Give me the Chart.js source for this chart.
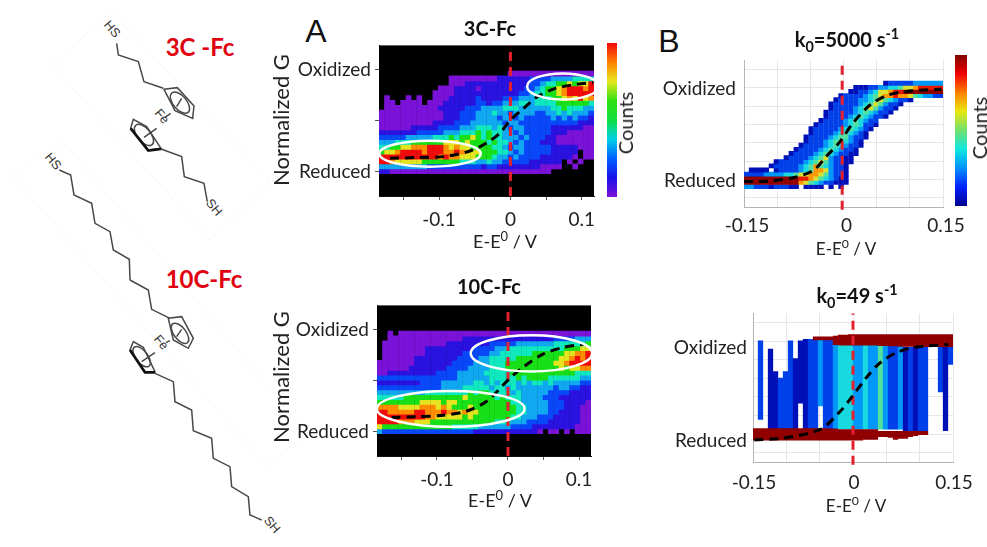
<!DOCTYPE html>
<html>
<head>
<meta charset="utf-8">
<title>Ferrocene conductance maps</title>
<script src="https://cdn.jsdelivr.net/npm/chart.js@4"></script>
<style>
  html, body { margin: 0; padding: 0; background: #fff; }
  body { position: relative; width: 987px; height: 547px; overflow: hidden; font-family: Lato, sans-serif; color: #222; }
  canvas { position: absolute; filter: blur(0.5px); }
  svg { position: absolute; left: 0; top: 0; }
  .t { position: absolute; transform: translate(-50%, -50%); white-space: nowrap; line-height: 1; }
  .v { transform: translate(-50%, -50%) rotate(-90deg); }
  .title { font-size: 20px; font-weight: 700; color: #111; }
  .xlab { font-size: 18px; }
  .ylab { font-size: 22px; }
  .counts { font-size: 20px; }
  .tag { font-family: "Liberation Sans", sans-serif; font-size: 32px; color: #111; }
  .mol { font-size: 24px; font-weight: 700; color: #e0000f; }
  sup, sub { font-size: 72%; line-height: 0; }
</style>
</head>
<body>

<!-- molecule sketches, drawn on the 3x crop coordinates -->
<svg width="987" height="547" viewBox="0 0 987 547">
  <g transform="scale(0.3333)" fill="none" stroke="#484848" stroke-width="4.5" font-family="Liberation Sans">
    <polygon points="335,35 155,195 630,720 810,545" stroke="#efefef" stroke-width="3" stroke-dasharray="6 5"/>
    <polygon points="190,425 35,525 800,1400 920,1300" stroke="#f1f1f1" stroke-width="3" stroke-dasharray="6 5"/>
    <polyline points="350,130 355,165 415,185 432,245 490,265"/>
    <polygon points="492,268 532,263 582,318 578,355 525,332"/>
    <ellipse cx="540" cy="308" rx="38" ry="20" transform="rotate(50 540 308)"/>
    <line x1="545" y1="295" x2="530" y2="320"/>
    <line x1="512" y1="340" x2="495" y2="352"/>
    <line x1="470" y1="385" x2="432" y2="412"/>
    <polygon points="400,358 392,385 445,450 483,445 440,380"/>
    <ellipse cx="432" cy="405" rx="38" ry="20" transform="rotate(50 432 405)"/>
    <polyline points="392,385 445,452 483,447" stroke="#111" stroke-width="8"/>
    <polyline points="483,447 545,470 553,530 612,550 622,605"/>
    <polyline points="178,510 212,525 222,585 275,610 285,670 330,695 340,750 388,778 390,840"/>
    <g fill="#333" stroke="none" font-size="38">
      <text transform="translate(310,75) rotate(50)">HS</text>
      <text transform="translate(616,610) rotate(50)">SH</text>
      <text transform="translate(462,340) rotate(50)">Fe</text>
      <text transform="translate(133,472) rotate(50)">HS</text>
    </g>
  </g>
  <g transform="translate(0,270) scale(0.3333)" fill="none" stroke="#484848" stroke-width="4.5" font-family="Liberation Sans">
    <polyline points="390,30 445,60 455,118 510,145"/>
    <polygon points="505,145 545,140 580,205 565,235 520,210"/>
    <ellipse cx="540" cy="190" rx="36" ry="18" transform="rotate(52 540 190)"/>
    <line x1="545" y1="178" x2="530" y2="200"/>
    <line x1="510" y1="212" x2="498" y2="218"/>
    <line x1="465" y1="248" x2="425" y2="275"/>
    <polygon points="400,215 390,240 435,305 465,305 430,232"/>
    <ellipse cx="425" cy="260" rx="36" ry="18" transform="rotate(52 425 260)"/>
    <polyline points="390,240 435,307 465,307" stroke="#111" stroke-width="8"/>
    <polyline points="465,310 520,335 525,395 575,420 580,482 635,505 640,565 690,590 695,650 745,680 750,735 785,750"/>
    <g fill="#333" stroke="none" font-size="38">
      <text transform="translate(460,208) rotate(50)">Fe</text>
      <text transform="translate(790,752) rotate(50)">SH</text>
    </g>
  </g>
</svg>

<div class="t mol" style="left:200px;top:47px">3C -Fc</div>
<div class="t mol" style="left:204px;top:279px">10C-Fc</div>
<div class="t tag" style="left:316px;top:31px">A</div>
<div class="t tag" style="left:669px;top:41px">B</div>

<canvas id="map3C"></canvas>
<canvas id="map10C"></canvas>
<canvas id="mapFast"></canvas>
<canvas id="mapSlow"></canvas>
<canvas id="bar3C"></canvas>
<canvas id="barFast"></canvas>

<div class="t title" style="left:490px;top:28px">3C-Fc</div>
<div class="t title" style="left:489px;top:286px">10C-Fc</div>
<div class="t title" style="left:847px;top:39px">k<sub>0</sub>=5000 s<sup>-1</sup></div>
<div class="t title" style="left:857px;top:295px">k<sub>0</sub>=49 s<sup>-1</sup></div>
<div class="t xlab" style="left:505px;top:241px">E-E<sup>0</sup> / V</div>
<div class="t xlab" style="left:500px;top:500px">E-E<sup>0</sup> / V</div>
<div class="t xlab" style="left:846px;top:248px;font-size:17px">E-E<sup>0</sup> / V</div>
<div class="t xlab" style="left:856px;top:505px;font-size:17px">E-E<sup>0</sup> / V</div>
<div class="t v ylab" style="left:281px;top:120px">Normalized G</div>
<div class="t v ylab" style="left:281px;top:377px">Normalized G</div>
<div class="t v counts" style="left:625px;top:123px">Counts</div>
<div class="t v counts" style="left:979px;top:128px">Counts</div>

<script>
/* ================= DATA ================= */
const stateTicks = [0, 0.5, 1];
const stateLabels = ["Reduced", "", "Oxidized"];
const simStateTicks = [-0.2, 0, 0.2, 0.4, 0.6, 0.8, 1, 1.2];
const simStateLabels = ["", "Reduced", "", "", "", "", "Oxidized", ""];
const potTicksA = [-0.15, -0.1, -0.05, 0, 0.05, 0.1];
const potLabelsA = ["", "-0.1", "", "0", "", "0.1"];
const potTicksB = [-0.15, -0.1, -0.05, 0, 0.05, 0.1, 0.15];
const potLabelsB = ["-0.15", "", "", "0", "", "", "0.15"];

// average curves, potential / normalized G
const curve3CX = [-0.1685, -0.131, -0.094, -0.0566, -0.033, -0.0147, 0, 0.018, 0.0366, 0.06, 0.088, 0.116];
const curve3CY = [0.13, 0.138, 0.147, 0.202, 0.282, 0.378, 0.506, 0.618, 0.731, 0.811, 0.853, 0.875];
const curve10CX = [-0.164, -0.129, -0.091, -0.058, -0.03, 0, 0.0216, 0.05, 0.078, 0.106];
const curve10CY = [0.138, 0.147, 0.16, 0.202, 0.298, 0.506, 0.635, 0.763, 0.827, 0.859];
const curveFastX = [-0.15, -0.116, -0.0757, -0.0455, -0.0253, -0.0053, 0.0148, 0.04, 0.065, 0.0953, 0.148];
const curveFastY = [-0.02, -0.02, 0.02, 0.10, 0.257, 0.413, 0.622, 0.813, 0.917, 0.962, 0.986];
const curveSlowX = [-0.148, -0.104, -0.049, -0.0195, 0, 0.02, 0.04, 0.065, 0.095, 0.143];
const curveSlowY = [-0.0625, -0.042, 0.052, 0.243, 0.417, 0.608, 0.764, 0.878, 0.9375, 0.965];

// count levels, one string per row from the top, "." is an empty cell
const counts3C = [
  ".......... .......... ....111111 1111111111",
  ".......... ...1111111 1122222233 3344445555",
  ".......... ...1112222 2222222233 4556676779",
  ".......... .111222212 2222222334 5667899989",
  ".......... 1111222222 2222223345 5667899999",
  ".1...1.1.. 1112222232 2223334445 5566787978",
  ".11.1111.1 1122222233 2334445545 5556666665",
  ".111111111 1222223334 4445554444 4455655544",
  "1111111111 1122233344 4544344443 3445454443",
  "1111111111 1122233344 4434434333 3343434332",
  "1111111111 2222333444 4443443333 3333333222",
  "1111112222 2333344455 5454344333 3322222211",
  "2222222333 3344455565 6554434333 3322211111",
  "3333344444 5556566765 6554443433 3221111111",
  "4445556666 6677767666 5655434333 2221111111",
  "5566778889 9987877666 6554344333 3322222111",
  "6778999989 9988987776 6655434333 3322222.11",
  "9999999999 9898877766 6544343333 2222221.11",
  "9987777766 6666655544 5443333322 2222.1.1..",
  "4444444443 3333333332 3322222222 1111..1...",
  "2211111111 1111111111 1111111111 11........"
];
const counts10C = [
  "..1.111111 1111111111 1111111111 1111111111",
  "..11111111 1111112222 2222222222 2223333444",
  ".111111111 1112222222 2333334444 4445555556",
  ".111111112 2222222233 3344555555 5555566677",
  ".111111112 2222223333 3445555556 6666677889",
  ".111111222 2222233334 4555556666 6666778989",
  "1111111222 2222333344 4555666666 6667789999",
  "1111112222 2223333444 4555666666 6666767788",
  "1122222222 2333344444 5555566666 6666666555",
  "3333333333 3333344444 4555556566 6655555544",
  "2222222233 3344444455 4545554545 5454444433",
  "3333333333 3344445555 5455454444 4443443322",
  "4444444445 5555555656 6555545444 4433332222",
  "5555566666 6666667666 6656555444 4333222222",
  "6666666677 7767766666 6666655444 4433322221",
  "8888777788 8787666766 6666665544 4433322211",
  "9988888998 8898878776 6666665544 4433222211",
  "9999999998 8777776766 6666655444 3332222211",
  "9999888777 6666666666 6655544433 3322222211",
  "7666666666 6666555554 4444433332 2222222111",
  "4333333333 3333333322 2222222222 1.11.1.111"
];
const countsFast = [
  ".......... .......... ........12 2222333333",
  ".......... .......... ..11122334 4566788888",
  ".......... .......... .112234667 8899999999",
  ".......... .........1 2222345677 8776543322",
  ".......... ........12 2223345654 3221......",
  ".......... .......122 2223456532 21........",
  ".......... .......122 2234565322 1.........",
  ".......... ......1222 2234543221 ..........",
  ".......... ......1222 234543221. ..........",
  ".......... .....12222 3454322... ..........",
  ".......... ....122222 3454221... ..........",
  ".......... ...1222223 454321.... ..........",
  ".......... ...1222234 54321..... ..........",
  ".......... ..12222345 53221..... ..........",
  ".......... ..12223455 4321...... ..........",
  ".......... .122223454 3221...... ..........",
  ".......... 1222234543 221....... ..........",
  ".........1 2222345432 211....... ..........",
  "........12 2223456322 11........ ..........",
  "......1222 2234565322 11........ ..........",
  ".....12222 2345754322 1......... ..........",
  ".1111.1222 2345776322 1......... ..........",
  "2222333344 5667765322 1......... ..........",
  "9999999999 9887654321 1......... ..........",
  "9999999999 9765432211 1......... ..........",
  "3322212221 1.1111.1.1 .......... .........."
];

// slow panel: one floating bar per column, plus the two saturated bands
const slowTops = [null, 1.007, null, 0.92, 0.677, 0.608, 0.677, 1.007, 0.816, 1.007,
  1.024, 1.024, 1.024, 1.024, 1.024, 1.042, 1.024, 0.972, 0.972, 0.972,
  0.972, 0.972, 0.972, 0.972, 0.972, 0.972, 0.972, 0.972, 0.972, 0.972,
  0.9375, 0.9375, 0.9375, 0.9375, 0.9375, null, null, 0.9375, 0.9375, 0.9375];
const slowBottoms = [null, 0.156, null, 0.05, 0.05, 0.05, 0.05, 0.05, 0.05, 0.33,
  0.05, 0.05, 0.05, 0.3, 0.05, 0.05, 0.05, 0.05, 0.05, 0.05,
  0.05, 0.05, 0.05, 0.05, 0.05, 0.05, 0.05, 0.05, 0.05, 0.05,
  0.03, 0.03, 0.03, 0.03, 0.03, null, null, 0.451, 0.035, 0.747];
const slowLevels = [0, 2, 0, 1, 1, 2, 2, 2, 1, 1,
  1, 2, 2, 3, 2, 2, 3, 4, 4, 4,
  3, 3, 4, 3, 3, 5, 3, 2, 2, 3,
  1, 2, 1, 2, 2, 0, 0, 2, 1, 2];
const slowOxTops = [null, null, null, null, null, null, null, null, null, null,
  null, null, 1.05, 1.05, 1.05, 1.05, 1.06, 1.07, 1.07, 1.076,
  1.076, 1.076, 1.076, 1.076, 1.076, 1.076, 1.076, 1.076, 1.076, 1.076,
  1.076, 1.076, 1.076, 1.076, 1.076, 1.076, 1.076, 1.076, 1.076, 1.076];
const slowOxBottoms = [null, null, null, null, null, null, null, null, null, null,
  null, null, 1.01, 1.01, 1.01, 1.01, 0.96, 0.955, 0.955, 0.955,
  0.955, 0.955, 0.955, 0.955, 0.955, 0.95, 0.95, 0.945, 0.945, 0.94,
  0.94, 0.94, 0.9375, 0.9375, 0.9375, 0.9375, 0.9375, 0.9375, 0.9375, 0.9375];
const slowRedTops = [0.0625, 0.0625, 0.0625, 0.0625, 0.0625, 0.0625, 0.0625, 0.0625, 0.0625, 0.0625,
  0.0625, 0.0625, 0.0625, 0.0625, 0.0625, 0.06, 0.06, 0.052, 0.052, 0.052,
  0.052, 0.052, 0.052, 0.052, 0.052, 0.035, 0.035, 0.035, 0.035, 0.035,
  0.035, 0.035, 0.035, 0.035, 0.035, null, null, null, null, null];
const slowRedBottoms = [-0.069, -0.069, -0.069, -0.069, -0.069, -0.069, -0.069, -0.069, -0.069, -0.069,
  -0.069, -0.069, -0.069, -0.069, -0.069, -0.069, -0.069, -0.069, -0.069, -0.069,
  -0.069, -0.069, -0.06, -0.06, -0.06, -0.03, -0.03, -0.04, -0.06, -0.05,
  -0.05, -0.03, -0.02, -0.01, -0.01, null, null, null, null, null];

/* ================= STYLE ================= */
const rainbow = ["", "#7a12d8", "#2a12e0", "#0848f8", "#10a8f0", "#10e8c0", "#18e018", "#e4e420", "#ff8c00", "#f00c0c"];
const jet = ["", "#0010b8", "#0040e8", "#0098f8", "#18d8e0", "#50e0a0", "#d8e030", "#ff9800", "#e81800", "#900000"];
const rainbowStops = ["#7a12d8", "#1a10e8", "#0060ff", "#00d0e8", "#10e040", "#30e010", "#e8e820", "#ff8000", "#f00808"];
const jetStops = ["#00008c", "#0020ff", "#0090ff", "#10e8e0", "#70e070", "#e8e810", "#ff8000", "#f00000", "#800000"];
const RED = "#e4202c";
const INK = "#222";
const AXIS_FONT = { family: "Lato", size: 19 };
const COLS = 40;
const AXIS_W = 110, AXIS_H = 40, PAD_TOP = 12, PAD_RIGHT = 40;

/* ================= HELPERS ================= */
const columnNames = Array.from({ length: COLS }, (_, i) => String(i));

// one floating-bar dataset per row of the grid
const rowDatasets = (rows, topY, stepY, palette) => rows.map((row, r) => {
  const cells = row.replace(/ /g, "").padEnd(COLS, ".").split("");
  const hi = topY - r * stepY + 0.004;
  const lo = topY - (r + 1) * stepY - 0.004;
  return {
    xAxisID: "xc",
    grouped: false,
    barPercentage: 1.06,
    categoryPercentage: 1,
    borderWidth: 0,
    data: cells.map(c => (c === "." ? null : [lo, hi])),
    backgroundColor: cells.map(c => (c === "." ? "rgba(0,0,0,0)" : palette[+c]))
  };
});

const bandDataset = (tops, bottoms, colors) => ({
  xAxisID: "xc",
  grouped: false,
  barPercentage: 1.06,
  categoryPercentage: 1,
  borderWidth: 0,
  data: tops.map((t, i) => (t === null ? null : [bottoms[i], t])),
  backgroundColor: colors
});

const curveDataset = (xs, ys) => ({
  type: "line",
  xAxisID: "x",
  data: xs.map((x, i) => ({ x, y: ys[i] })),
  borderColor: "#000",
  borderWidth: 3,
  borderDash: [9, 6],
  pointRadius: 0,
  tension: 0.3,
  clip: false
});

const zeroDataset = (x, lo, hi) => ({
  type: "line",
  xAxisID: "x",
  data: [{ x, y: lo }, { x, y: hi }],
  borderColor: RED,
  borderWidth: 3,
  borderDash: [9, 6],
  pointRadius: 0,
  clip: false
});

const plotFill = color => ({
  id: "plotFill",
  beforeDatasetsDraw(chart) {
    const a = chart.chartArea;
    chart.ctx.save();
    chart.ctx.fillStyle = color;
    chart.ctx.fillRect(a.left, a.top, a.width, a.height);
    chart.ctx.restore();
  }
});

// white rings around the two plateaus, given in axis units
const rings = list => ({
  id: "rings",
  afterDatasetsDraw(chart) {
    const { x, y } = chart.scales;
    const ctx = chart.ctx;
    ctx.save();
    ctx.strokeStyle = "#fff";
    ctx.lineWidth = 2.5;
    list.forEach(e => {
      ctx.beginPath();
      ctx.ellipse(
        x.getPixelForValue(e.x), y.getPixelForValue(e.y),
        Math.abs(x.getPixelForValue(e.x + e.rx) - x.getPixelForValue(e.x)),
        Math.abs(y.getPixelForValue(e.y + e.ry) - y.getPixelForValue(e.y)),
        0, 0, Math.PI * 2
      );
      ctx.stroke();
    });
    ctx.restore();
  }
});

const placeCanvas = (id, left, top, width, height) => {
  const c = document.getElementById(id);
  c.width = width;
  c.height = height;
  c.style.left = left + "px";
  c.style.top = top + "px";
  c.style.width = width + "px";
  c.style.height = height + "px";
  return c;
};

const labelFrom = (ticks, labels) => v => {
  const i = ticks.findIndex(t => Math.abs(t - v) < 1e-6);
  return i < 0 ? "" : labels[i];
};

const drawMap = (id, box, cfg) => {
  const canvas = placeCanvas(id, box.left - AXIS_W, box.top - PAD_TOP,
    box.width + AXIS_W + PAD_RIGHT, box.height + PAD_TOP + AXIS_H);
  return new Chart(canvas, {
    type: "bar",
    data: { labels: columnNames, datasets: cfg.datasets },
    plugins: cfg.plugins,
    options: {
      responsive: false,
      animation: false,
      layout: { padding: { top: PAD_TOP, right: PAD_RIGHT, left: 0, bottom: 0 } },
      plugins: { legend: { display: false }, tooltip: { enabled: false }, title: { display: false } },
      scales: {
        xc: { type: "category", display: false, offset: true, grid: { offset: true } },
        x: {
          type: "linear",
          position: "bottom",
          offset: false,
          min: cfg.xMin,
          max: cfg.xMax,
          afterBuildTicks: s => { s.ticks = cfg.xTicks.map(value => ({ value })); },
          afterFit: s => { s.height = AXIS_H; },
          border: { color: cfg.border },
          grid: cfg.grid
            ? { offset: false, color: "#e6e6e6", drawTicks: false }
            : { offset: false, drawOnChartArea: false, tickLength: 4, color: "#555" },
          ticks: {
            autoSkip: false,
            maxRotation: 0,
            padding: cfg.xPad,
            labelOffset: cfg.xOffset,
            color: INK,
            font: AXIS_FONT,
            callback: labelFrom(cfg.xTicks, cfg.xLabels)
          }
        },
        y: {
          type: "linear",
          min: cfg.yMin,
          max: cfg.yMax,
          afterBuildTicks: s => { s.ticks = cfg.yTicks.map(value => ({ value })); },
          afterFit: s => { s.width = AXIS_W; },
          border: { color: cfg.border },
          grid: cfg.grid
            ? { color: "#e6e6e6", drawTicks: false }
            : { drawOnChartArea: false, tickLength: 4, color: "#555" },
          ticks: {
            autoSkip: false,
            padding: cfg.yPad,
            labelOffset: cfg.yOffset,
            color: INK,
            font: AXIS_FONT,
            callback: labelFrom(cfg.yTicks, cfg.yLabels)
          }
        }
      }
    }
  });
};

const drawBar = (id, box, stops) => {
  const canvas = placeCanvas(id, box.left, box.top, box.width, box.height);
  return new Chart(canvas, {
    type: "bar",
    data: {
      labels: ["Counts"],
      datasets: [{
        data: [[0, 1]],
        barPercentage: 1,
        categoryPercentage: 1,
        backgroundColor: ctx => {
          const a = ctx.chart.chartArea;
          if (!a) return stops[0];
          const g = ctx.chart.ctx.createLinearGradient(0, a.bottom, 0, a.top);
          stops.forEach((s, i) => g.addColorStop(i / (stops.length - 1), s));
          return g;
        }
      }]
    },
    options: {
      responsive: false,
      animation: false,
      plugins: { legend: { display: false }, tooltip: { enabled: false } },
      scales: { x: { display: false }, y: { display: false, min: 0, max: 1 } }
    }
  });
};

/* ================= PANELS ================= */
const panelA = {
  xTicks: potTicksA, xLabels: potLabelsA,
  yTicks: stateTicks, yLabels: stateLabels,
  xPad: 8, xOffset: 0, yPad: 4, yOffset: 0, border: "#111", grid: false
};

drawMap("map3C", { left: 379, top: 42, width: 215, height: 154 }, {
  ...panelA, xMin: -0.184, xMax: 0.117, yMin: -0.24, yMax: 1.24,
  datasets: [
    curveDataset(curve3CX, curve3CY),
    zeroDataset(0, -0.24, 1.24),
    ...rowDatasets(counts3C, 0.987, 0.048, rainbow)
  ],
  plugins: [plotFill("#000"), rings([
    { x: -0.1126, y: 0.176, rx: 0.071, ry: 0.128 },
    { x: 0.0734, y: 0.837, rx: 0.05, ry: 0.128 }
  ])]
});

drawMap("map10C", { left: 377, top: 302, width: 214, height: 154 }, {
  ...panelA, xMin: -0.1845, xMax: 0.1169, yMin: -0.24, yMax: 1.24,
  datasets: [
    curveDataset(curve10CX, curve10CY),
    zeroDataset(0, -0.24, 1.24),
    ...rowDatasets(counts10C, 0.987, 0.048, rainbow)
  ],
  plugins: [plotFill("#000"), rings([
    { x: -0.0807, y: 0.224, rx: 0.104, ry: 0.176 },
    { x: 0.033, y: 0.769, rx: 0.0855, ry: 0.178 }
  ])]
});

const panelB = {
  xMin: -0.15, xMax: 0.15, yMin: -0.3, yMax: 1.3,
  xTicks: potTicksB, xLabels: potLabelsB,
  yTicks: simStateTicks, yLabels: simStateLabels,
  yPad: 8, border: "#b4b4b4", grid: true
};

drawMap("mapFast", { left: 744, top: 53, width: 199, height: 154 }, {
  ...panelB, xPad: 7, xOffset: 3, yOffset: 1,
  datasets: [
    curveDataset(curveFastX, curveFastY),
    zeroDataset(-0.002, -0.33, 1.3),
    ...rowDatasets(countsFast, 1.073, 0.0451, jet)
  ],
  plugins: []
});

drawMap("mapSlow", { left: 753, top: 308, width: 200, height: 154 }, {
  ...panelB, xPad: 9, xOffset: 1, yOffset: 7, yPad: 6,
  datasets: [
    curveDataset(curveSlowX, curveSlowY),
    zeroDataset(0, -0.33, 1.3),
    bandDataset(slowOxTops, slowOxBottoms, jet[9]),
    bandDataset(slowRedTops, slowRedBottoms, jet[9]),
    bandDataset(slowTops, slowBottoms, slowLevels.map(l => jet[l] || "rgba(0,0,0,0)"))
  ],
  plugins: []
});

drawBar("bar3C", { left: 607, top: 43, width: 10, height: 154 }, rainbowStops);
drawBar("barFast", { left: 955, top: 55, width: 12, height: 151 }, jetStops);
</script>
</body>
</html>
